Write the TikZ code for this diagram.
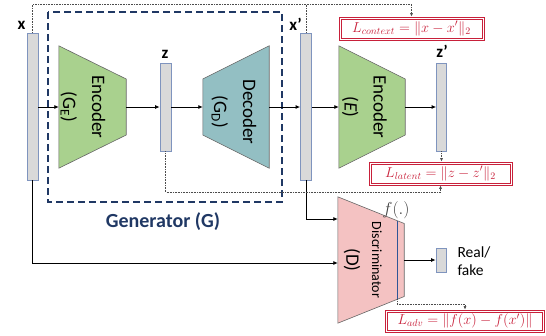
\documentclass[tikz,border=0pt]{standalone}
\usepackage{amsmath}
\usepackage{xcolor}
\usepackage{fontspec}
\setmainfont{Carlito}
\usetikzlibrary{arrows.meta,calc}
\definecolor{barfill}{HTML}{D9D9D9}
\definecolor{barline}{HTML}{7F94BE}
\definecolor{encgreen}{HTML}{A9D18E}
\definecolor{decteal}{HTML}{93BFC3}
\definecolor{dispink}{HTML}{F4C2C2}
\definecolor{gennavy}{HTML}{203864}
\definecolor{lossred}{HTML}{C8203A}
\definecolor{featblue}{HTML}{2F5597}
\begin{document}
\begin{tikzpicture}[x=1pt,y=-1pt,
  bar/.style={draw=barline,fill=barfill,line width=0.8pt,minimum width=11pt,inner sep=0pt},
  blk/.style={inner sep=0pt,minimum width=66pt},
  trap/.style={draw=black!60,line width=0.6pt},
  lbl/.style={anchor=base,font=\fontsize{17}{17}\selectfont\bfseries},
  txt/.style={rotate=-90,align=center,font=\fontsize{19}{29}\selectfont},
  loss/.style={draw=lossred,line width=0.8pt,text=lossred,font=\fontsize{14.4}{14.4}\selectfont,inner sep=0pt,
    path picture={\draw[lossred,line width=0.5pt] ([shift={(1.8pt,-1.8pt)}]path picture bounding box.north west) rectangle ([shift={(-1.8pt,1.8pt)}]path picture bounding box.south east);}},
  flow/.style={line width=0.8pt,-{Latex[length=4.5pt,width=4pt]}},
  dots/.style={densely dotted,line width=0.6pt,color=black!70},
  dotarrow/.style={dots,-{Latex[length=3.5pt,width=3pt]}}]
\useasboundingbox (0,0) rectangle (546,335);
\draw[gennavy,dash pattern=on 7pt off 4pt,line width=1.3pt] (48,12) rectangle (282,202);
\node[font=\fontsize{20}{20}\selectfont\bfseries,text=gennavy] (genlbl) at (163,222) {Generator (G)};

\node[bar,minimum height=147pt] (xbar) at (32.5,106.5) {};
\node[bar,minimum height=88pt] (zbar) at (165.5,107) {};
\node[bar,minimum height=147pt] (xpbar) at (306,106.5) {};
\node[bar,minimum width=10pt,minimum height=88pt] (zpbar) at (441.5,107) {};
\node[bar,minimum width=10pt,minimum height=24pt] (out) at (441,260) {};
\node[lbl] (xlbl) at (21.5,29) {x};
\node[lbl] (zlbl) at (165,58) {z};
\node[lbl] (xplbl) at (295.5,30) {x’};
\node[lbl] (zplbl) at (442,57) {z’};

\node[blk,minimum width=67pt,minimum height=122pt] (enc) at (92.5,107) {};
\draw[trap,fill=encgreen] (enc.north west) -- ([yshift=28pt]enc.east) -- ([yshift=-28pt]enc.east) -- (enc.south west) -- cycle;
\node[txt] (enctxt) at (83,107) {Encoder\\(G\textsubscript{E})};
\node[blk,minimum height=122pt] (dec) at (236,107) {};
\draw[trap,fill=decteal] ([yshift=28pt]dec.west) -- (dec.north east) -- (dec.south east) -- ([yshift=-28pt]dec.west) -- cycle;
\node[txt] (dectxt) at (234,112) {Decoder\\(G\textsubscript{D})};
\node[blk,minimum height=122pt] (encE) at (372,107) {};
\draw[trap,fill=encgreen] (encE.north west) -- ([yshift=28pt]encE.east) -- ([yshift=-28pt]encE.east) -- (encE.south west) -- cycle;
\node[txt] (encEtxt) at (364.5,107) {Encoder\\(\textit{E})};
\node[blk,minimum height=126pt] (dis) at (371,260) {};
\draw[trap,fill=dispink] (dis.north west) -- ([yshift=36.5pt]dis.east) -- ([yshift=-36.5pt]dis.east) -- (dis.south west) -- cycle;
\coordinate (ftop) at ($(dis.north west)!0.894!([yshift=36.5pt]dis.east)$);
\coordinate (fbot) at ($(dis.south west)!0.894!([yshift=-36.5pt]dis.east)$);
\draw[featblue,line width=1pt] (ftop) -- (fbot);
\node[rotate=-90,font=\fontsize{19}{19}\selectfont] (dlbl) at (352,260) {(D)};
\node[rotate=-90,font=\fontsize{14}{14}\selectfont] (dname) at (377,260) {Discriminator};
\node[font=\fontsize{17.28}{17.28}\selectfont,text=black!75] (flbl) at (396,210) {$f(.)$};
\node[anchor=west,align=left,font=\fontsize{15.5}{18}\selectfont] (rf) at (454,261) {Real/\\fake};

\node[loss,minimum width=145pt,minimum height=23pt] (ctx) at (411.5,28.5) {$L_{context} = \|x - x'\|_2$};
\node[loss,minimum width=143pt,minimum height=23pt] (lat) at (440.5,173.5) {$L_{latent} = \|z - z'\|_2$};
\node[loss,minimum width=159pt,minimum height=22pt] (adv) at (465,321) {$L_{adv} = \|f(x) - f(x')\|$};

\draw[flow] (xbar.east |- enc.west) -- (enc.west);
\draw[flow] (enc.east) -- (zbar.west);
\draw[flow] (zbar.east) -- (dec.west);
\draw[flow] (dec.east) -- (xpbar.west |- dec.east);
\draw[flow] (xpbar.east |- encE.west) -- (encE.west);
\draw[flow] (encE.east) -- (zpbar.west);
\draw[flow] (xbar.south) |- ([yshift=-3pt]dis.west);
\draw[flow] (xpbar.south) |- ([yshift=41pt]dis.west);
\draw[flow] (dis.east) -- (out.west);

\coordinate (top) at (0,4.5);
\coordinate (bot) at (0,192);
\draw[dotarrow] (xbar.north) -- (xbar.north |- top) -| (ctx.north);
\draw[dots] (xpbar.north) -- (xpbar.north |- top);
\draw[dotarrow] (zpbar.south) -- (zpbar.south |- lat.north);
\draw[dotarrow] (zbar.south) -- (zbar.south |- bot) -| (lat.south);
\draw[dotarrow] (fbot) -- ++(0,5) -| (adv.north);
\end{tikzpicture}
\end{document}
